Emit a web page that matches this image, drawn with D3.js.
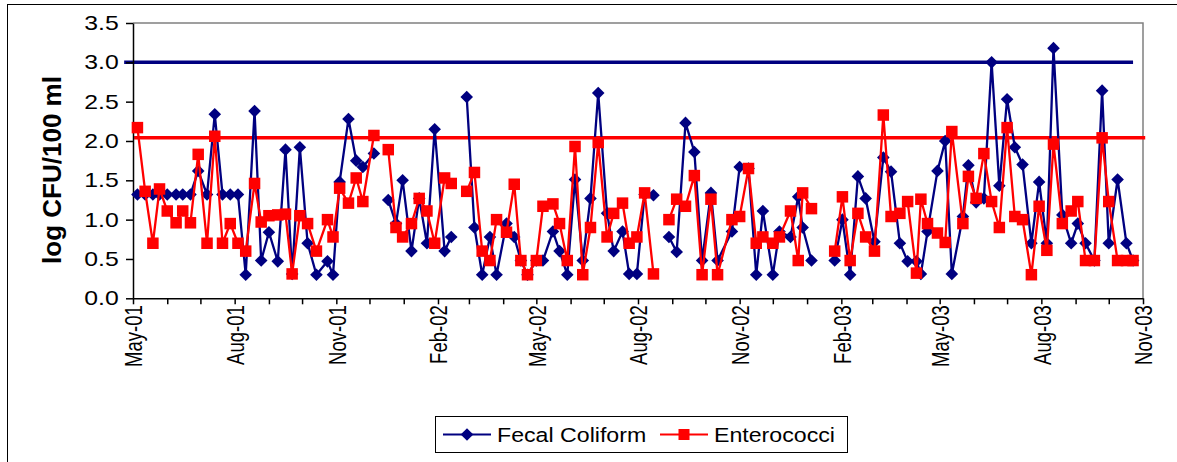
<!DOCTYPE html>
<html><head><meta charset="utf-8">
<script src="https://cdn.jsdelivr.net/npm/d3@7"></script>
<style>body{margin:0;background:#fff}svg{display:block}</style>
</head><body>
<svg id="chart" width="1177" height="462"></svg>
<script>
// ---- data ----
const sampleDates = [
"2001-05-05","2001-05-12","2001-05-19","2001-05-25","2001-06-01","2001-06-09","2001-06-15","2001-06-22","2001-06-29","2001-07-07",
"2001-07-14","2001-07-21","2001-07-28","2001-08-04","2001-08-11","2001-08-19","2001-08-25","2001-09-01","2001-09-09","2001-09-16",
"2001-09-22","2001-09-29","2001-10-06","2001-10-14","2001-10-24","2001-10-29","2001-11-04","2001-11-12","2001-11-19","2001-11-25",
"2001-12-05","2001-12-11","2001-12-18","2001-12-25","2001-12-31","2002-01-08","2002-01-15","2002-01-22","2002-01-29","2002-02-07","2002-02-13",
"2002-02-20","2002-02-27","2002-03-06","2002-03-13","2002-03-20","2002-03-26","2002-04-04","2002-04-11","2002-04-17","2002-04-23","2002-05-01",
"2002-05-07","2002-05-16","2002-05-22","2002-05-29","2002-06-05","2002-06-12","2002-06-19","2002-06-26","2002-07-04","2002-07-10",
"2002-07-18","2002-07-24","2002-07-31","2002-08-07","2002-08-15","2002-08-22","2002-08-29","2002-09-05","2002-09-13","2002-09-21","2002-09-28",
"2002-10-06","2002-10-12","2002-10-25","2002-11-01","2002-11-09","2002-11-16","2002-11-22","2002-12-01","2002-12-07","2002-12-17",
"2002-12-24","2002-12-28","2003-01-05","2003-01-15","2003-01-26","2003-02-02","2003-02-09","2003-02-16","2003-02-23","2003-03-03","2003-03-11",
"2003-03-18","2003-03-26","2003-04-02","2003-04-10","2003-04-14","2003-04-20","2003-04-29","2003-05-06","2003-05-12","2003-05-22",
"2003-05-27","2003-06-03","2003-06-10","2003-06-17","2003-06-24","2003-07-01","2003-07-08","2003-07-15","2003-07-23","2003-07-30",
"2003-08-06","2003-08-12","2003-08-20","2003-08-28","2003-09-03","2003-09-10","2003-09-18","2003-09-25","2003-10-01","2003-10-09",
"2003-10-17","2003-10-23"];

const fecalColiform = [
1.32,1.32,1.32,1.32,1.32,1.32,1.32,1.32,1.62,1.32,
2.34,1.32,1.32,1.32,0.30,2.38,0.48,0.84,0.47,1.89,
0.31,1.92,0.70,0.30,0.47,0.30,1.48,2.28,1.75,1.67,
1.84,null,1.25,0.95,1.50,0.60,1.27,0.70,2.15,0.60,0.78,
null,2.56,0.90,0.30,0.78,0.30,0.95,0.78,0.48,0.30,0.48,
0.48,0.85,0.60,0.30,1.51,0.48,1.27,2.61,1.08,0.60,
0.85,0.31,0.31,1.32,1.31,null,0.78,0.59,2.23,1.86,0.48,
1.34,0.48,0.85,1.67,1.65,0.30,1.11,0.30,0.85,0.78,
1.29,0.90,0.48,null,0.48,1.00,0.30,1.55,1.27,0.72,1.79,
1.61,0.70,0.47,0.47,0.31,0.85,1.62,2.00,0.31,1.04,
1.69,1.22,1.27,3.00,1.43,2.53,1.92,1.70,0.70,1.48,
0.70,3.18,1.06,0.70,0.95,0.70,0.48,2.64,0.70,1.51,
0.70,0.48];

const enterococci = [
2.17,1.36,0.70,1.39,1.11,0.96,1.11,0.96,1.83,0.70,
2.06,0.70,0.95,0.70,0.60,1.46,0.97,1.05,1.06,1.07,
0.31,1.05,0.95,0.60,1.00,0.78,1.40,1.21,1.53,1.23,
2.07,null,1.89,0.90,0.78,0.95,1.27,1.11,0.70,1.53,1.46,
null,1.36,1.60,0.60,0.48,1.00,0.84,1.45,0.48,0.30,0.48,
1.17,1.20,0.95,0.48,1.93,0.30,0.90,1.98,0.78,1.08,
1.21,0.70,0.78,1.34,0.31,null,1.00,1.26,1.17,1.56,0.30,
1.26,0.30,1.00,1.04,1.65,0.70,0.78,0.70,0.78,1.11,
0.48,1.34,1.14,null,0.60,1.29,0.48,1.08,0.78,0.60,2.33,
1.04,1.08,1.23,0.32,1.26,0.95,0.83,0.71,2.12,0.95,
1.55,1.27,1.84,1.23,0.90,2.17,1.04,1.00,0.30,1.17,
0.61,1.96,0.95,1.11,1.23,0.48,0.48,2.04,1.23,0.48,
0.48,0.48];

const yTickValues = [0.0,0.5,1.0,1.5,2.0,2.5,3.0,3.5];
const xTickLabels = ["May-01","Aug-01","Nov-01","Feb-02","May-02","Aug-02","Nov-02","Feb-03","May-03","Aug-03","Nov-03"];
const xDomain = ["2001-05-01","2003-11-01"];
const fecalStandardValue = 3.0;
const fecalStandardDates = ["2001-04-23","2003-10-23"];
const enteroStandardValue = 2.04;
const enteroStandardDates = ["2001-05-02","2003-11-03"];
const seriesNames = ["Fecal Coliform","Enterococci"];
const yTitle = "log CFU/100 ml";

// ---- drawing ----
const NAVY = "#000080", RED = "#FF0000";
const FONT = "'Liberation Sans', Arial, sans-serif";
const parse = d3.utcParse("%Y-%m-%d");
const parseLabel = d3.utcParse("%b-%y");
const svg = d3.select("#chart");

const x = d3.scaleUtc().domain(xDomain.map(parse)).range([133, 1143]);
const y = d3.scaleLinear().domain([0, 3.5]).range([298.3, 23]);

// outer frame (extends beyond image on right/bottom)
svg.append("rect").attr("x", 7.5).attr("y", 4.5).attr("width", 1300).attr("height", 600)
  .attr("fill", "none").attr("stroke", "#000").attr("stroke-width", 1);

// plot area border (top + right, gray)
svg.append("path").attr("d", `M${x.range()[0]},${y(3.5)}H${x.range()[1]}V${y(0)}`)
  .attr("fill", "none").attr("stroke", "#808080").attr("stroke-width", 1.5);

// standards
const refLine = (val, dates, color) => svg.append("line")
  .attr("x1", x(parse(dates[0]))).attr("x2", x(parse(dates[1])))
  .attr("y1", y(val)).attr("y2", y(val))
  .attr("stroke", color).attr("stroke-width", 3.5);
refLine(fecalStandardValue, fecalStandardDates, NAVY);
refLine(enteroStandardValue, enteroStandardDates, RED);

// y axis
const yAxis = svg.append("g").attr("transform", `translate(${x.range()[0]},0)`)
  .call(d3.axisLeft(y).tickValues(yTickValues).tickSize(7).tickSizeOuter(0).tickFormat(d3.format(".1f")));
yAxis.selectAll("path,line").attr("stroke", "#000").attr("stroke-width", 1.5);
yAxis.selectAll("text").attr("x", -11.5).attr("transform", "scale(1.24,1)")
  .style("font-family", FONT).style("font-size", "20px").attr("fill", "#000");

// x axis
const xAxis = svg.append("g").attr("transform", `translate(0,${y(0)})`)
  .call(d3.axisBottom(x).ticks(d3.utcMonth.every(1)).tickSize(6).tickSizeOuter(0).tickFormat(""));
xAxis.selectAll("path,line").attr("stroke", "#000").attr("stroke-width", 1.5);

svg.append("g").selectAll("text").data(xTickLabels).join("text")
  .attr("transform", d => `translate(${x(parseLabel(d)) + 1.5},${y(0) + 7}) scale(1.3,1) rotate(-90)`)
  .attr("text-anchor", "end").attr("dominant-baseline", "central")
  .style("font-family", FONT).style("font-size", "18.5px").attr("fill", "#000")
  .text(d => d);

// y title
svg.append("text").attr("transform", "translate(61,170) rotate(-90)")
  .attr("text-anchor", "middle").style("font-family", FONT).style("font-size", "26px")
  .style("font-weight", "bold").text(yTitle);

// series
const rows = sampleDates.map((d, i) => ({date: parse(d), fc: fecalColiform[i], en: enterococci[i]}));
const lineFor = key => d3.line().defined(d => d[key] != null).x(d => x(d.date)).y(d => y(d[key]));
const diamond = "M0,-6.3L6.3,0L0,6.3L-6.3,0Z";

svg.append("path").datum(rows).attr("d", lineFor("fc")).attr("fill", "none")
  .attr("stroke", NAVY).attr("stroke-width", 2.3);
svg.append("g").selectAll("path").data(rows.filter(d => d.fc != null)).join("path")
  .attr("d", diamond).attr("transform", d => `translate(${x(d.date)},${y(d.fc)})`).attr("fill", NAVY);

svg.append("path").datum(rows).attr("d", lineFor("en")).attr("fill", "none")
  .attr("stroke", RED).attr("stroke-width", 2.3);
svg.append("g").selectAll("rect").data(rows.filter(d => d.en != null)).join("rect")
  .attr("x", d => x(d.date) - 5.75).attr("y", d => y(d.en) - 5.75).attr("width", 11.5).attr("height", 11.5)
  .attr("fill", RED);

// legend
const lg = svg.append("g");
lg.append("rect").attr("x", 435.5).attr("y", 416.5).attr("width", 412).attr("height", 36)
  .attr("fill", "#fff").attr("stroke", "#000").attr("stroke-width", 1);
const items = [
  {name: seriesNames[0], color: NAVY, x0: 443, shape: "diamond"},
  {name: seriesNames[1], color: RED, x0: 660, shape: "square"}
];
items.forEach(it => {
  lg.append("line").attr("x1", it.x0).attr("x2", it.x0 + 48).attr("y1", 434.5).attr("y2", 434.5)
    .attr("stroke", it.color).attr("stroke-width", 2);
  if (it.shape === "diamond") {
    lg.append("path").attr("d", diamond).attr("transform", `translate(${it.x0 + 24},434.5)`).attr("fill", it.color);
  } else {
    lg.append("rect").attr("x", it.x0 + 24 - 5.5).attr("y", 429).attr("width", 11).attr("height", 11).attr("fill", it.color);
  }
  lg.append("text").attr("transform", `translate(${it.x0 + 54},442) scale(1.13,1)`)
    .style("font-family", FONT).style("font-size", "20.5px").attr("fill", "#000").text(it.name);
});
</script>
</body></html>
